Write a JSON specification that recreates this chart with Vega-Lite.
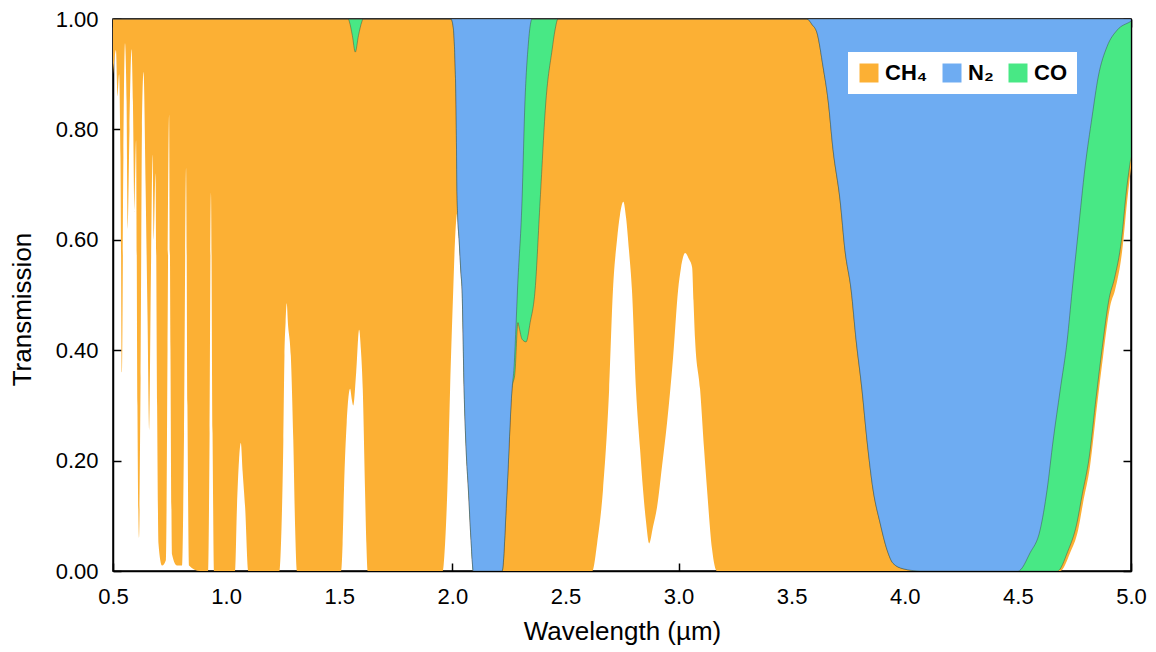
{
 "$schema": "https://vega.github.io/schema/vega-lite/v6.json",
 "width": 1018,
 "height": 552,
 "autosize": {"type": "none"},
 "padding": {"left": 113, "top": 19, "right": 25, "bottom": 81},
 "background": "white",
 "datasets": {
  "ch4": [
   {"w":0.500,"t":0.90},{"w":0.507,"t":0.93},{"w":0.513,"t":0.944},{"w":0.520,"t":0.86},{"w":0.527,"t":0.90},{"w":0.533,"t":0.75},{"w":0.540,"t":0.36},{"w":0.546,"t":0.75},{"w":0.553,"t":0.956},{"w":0.560,"t":0.85},{"w":0.566,"t":0.62},{"w":0.573,"t":0.80},{"w":0.582,"t":0.945},{"w":0.588,"t":0.85},{"w":0.595,"t":0.65},{"w":0.602,"t":0.78},{"w":0.608,"t":0.30},{"w":0.615,"t":0.06},{"w":0.622,"t":0.35},{"w":0.628,"t":0.80},{"w":0.635,"t":0.904},{"w":0.644,"t":0.70},{"w":0.653,"t":0.45},{"w":0.661,"t":0.255},{"w":0.668,"t":0.55},{"w":0.675,"t":0.754},{"w":0.681,"t":0.60},{"w":0.688,"t":0.72},{"w":0.695,"t":0.30},{"w":0.701,"t":0.05},{"w":0.717,"t":0.01},{"w":0.734,"t":0.02},{"w":0.741,"t":0.40},{"w":0.748,"t":0.826},{"w":0.754,"t":0.40},{"w":0.761,"t":0.03},{"w":0.783,"t":0.01},{"w":0.805,"t":0.01},{"w":0.814,"t":0.25},{"w":0.823,"t":0.73},{"w":0.829,"t":0.30},{"w":0.836,"t":0.01},{"w":0.885,"t":0.0},{"w":0.920,"t":0.0},{"w":0.927,"t":0.25},{"w":0.933,"t":0.685},{"w":0.940,"t":0.25},{"w":0.947,"t":0.0},
   {"w":1.039,"t":0.0},{"w":1.048,"t":0.116},{"w":1.057,"t":0.20},{"w":1.065,"t":0.232},{"w":1.073,"t":0.18},{"w":1.084,"t":0.116},{"w":1.098,"t":0.0},
   {"w":1.236,"t":0.0},{"w":1.245,"t":0.08},{"w":1.253,"t":0.237},{"w":1.258,"t":0.39},{"w":1.263,"t":0.45},{"w":1.268,"t":0.485},{"w":1.273,"t":0.45},{"w":1.286,"t":0.39},{"w":1.297,"t":0.237},{"w":1.305,"t":0.08},{"w":1.313,"t":0.0},
   {"w":1.508,"t":0.0},{"w":1.515,"t":0.05},{"w":1.521,"t":0.147},{"w":1.533,"t":0.268},{"w":1.548,"t":0.33},{"w":1.556,"t":0.31},{"w":1.562,"t":0.30},{"w":1.575,"t":0.36},{"w":1.588,"t":0.437},{"w":1.596,"t":0.40},{"w":1.604,"t":0.33},{"w":1.614,"t":0.147},{"w":1.620,"t":0.05},{"w":1.626,"t":0.0},
   {"w":1.958,"t":0.0},{"w":1.968,"t":0.05},{"w":1.978,"t":0.147},{"w":1.990,"t":0.328},{"w":2.004,"t":0.509},{"w":2.012,"t":0.60},{"w":2.018,"t":0.64},{"w":2.023,"t":0.65},{"w":2.030,"t":0.60},{"w":2.038,"t":0.54},{"w":2.043,"t":0.509},{"w":2.052,"t":0.328},{"w":2.061,"t":0.22},{"w":2.071,"t":0.147},{"w":2.082,"t":0.06},{"w":2.093,"t":0.0},
   {"w":2.618,"t":0.0},{"w":2.640,"t":0.05},{"w":2.666,"t":0.147},{"w":2.693,"t":0.328},{"w":2.710,"t":0.509},{"w":2.728,"t":0.60},{"w":2.741,"t":0.645},{"w":2.756,"t":0.669},{"w":2.768,"t":0.64},{"w":2.781,"t":0.58},{"w":2.794,"t":0.509},{"w":2.812,"t":0.328},{"w":2.830,"t":0.22},{"w":2.843,"t":0.147},{"w":2.856,"t":0.09},{"w":2.870,"t":0.05},{"w":2.887,"t":0.08},{"w":2.905,"t":0.116},{"w":2.927,"t":0.19},{"w":2.949,"t":0.268},{"w":2.976,"t":0.388},{"w":2.998,"t":0.509},{"w":3.011,"t":0.55},{"w":3.029,"t":0.576},{"w":3.046,"t":0.565},{"w":3.060,"t":0.55},{"w":3.066,"t":0.49},{"w":3.073,"t":0.42},{"w":3.095,"t":0.33},{"w":3.113,"t":0.22},{"w":3.126,"t":0.147},{"w":3.148,"t":0.04},{"w":3.170,"t":0.0},
   {"w":4.687,"t":0.0},{"w":4.731,"t":0.033},{"w":4.766,"t":0.074},{"w":4.788,"t":0.123},{"w":4.819,"t":0.19},{"w":4.850,"t":0.30},{"w":4.877,"t":0.39},{"w":4.908,"t":0.48},{"w":4.930,"t":0.51},{"w":4.961,"t":0.58},{"w":4.983,"t":0.67},{"w":5.0,"t":0.73}
  ],
  "co": [
   {"w":0.5,"t":1},{"w":1.540,"t":1},{"w":1.545,"t":0.995},{"w":1.558,"t":0.97},{"w":1.571,"t":0.94},{"w":1.585,"t":0.97},{"w":1.600,"t":0.995},{"w":1.605,"t":1},
   {"w":1.994,"t":1},{"w":2.004,"t":0.985},{"w":2.012,"t":0.92},{"w":2.016,"t":0.853},{"w":2.021,"t":0.68},{"w":2.023,"t":0.65},{"w":2.030,"t":0.60},{"w":2.038,"t":0.54},{"w":2.043,"t":0.509},{"w":2.052,"t":0.328},{"w":2.061,"t":0.22},{"w":2.071,"t":0.147},{"w":2.082,"t":0.06},{"w":2.093,"t":0.0},
   {"w":2.220,"t":0.0},{"w":2.242,"t":0.147},{"w":2.264,"t":0.33},{"w":2.277,"t":0.36},{"w":2.290,"t":0.45},{"w":2.296,"t":0.44},{"w":2.308,"t":0.42},{"w":2.326,"t":0.415},{"w":2.344,"t":0.45},{"w":2.366,"t":0.51},{"w":2.388,"t":0.67},{"w":2.414,"t":0.853},{"w":2.441,"t":0.944},{"w":2.454,"t":0.98},{"w":2.467,"t":1},
   {"w":3.568,"t":1},{"w":3.590,"t":0.99},{"w":3.612,"t":0.975},{"w":3.639,"t":0.913},{"w":3.661,"t":0.853},{"w":3.683,"t":0.763},{"w":3.714,"t":0.672},{"w":3.736,"t":0.58},{"w":3.763,"t":0.509},{"w":3.785,"t":0.418},{"w":3.811,"t":0.328},{"w":3.833,"t":0.237},{"w":3.860,"t":0.147},{"w":3.891,"t":0.087},{"w":3.922,"t":0.038},{"w":3.948,"t":0.014},{"w":3.993,"t":0.004},{"w":4.068,"t":0.0},
   {"w":4.675,"t":0.0},{"w":4.720,"t":0.035},{"w":4.760,"t":0.085},{"w":4.785,"t":0.14},{"w":4.815,"t":0.205},{"w":4.846,"t":0.315},{"w":4.873,"t":0.405},{"w":4.904,"t":0.495},{"w":4.927,"t":0.53},{"w":4.958,"t":0.60},{"w":4.980,"t":0.69},{"w":5.0,"t":0.75}
  ],
  "n2": [
   {"w":0.5,"t":1},{"w":1.994,"t":1},{"w":2.004,"t":0.985},{"w":2.012,"t":0.92},{"w":2.016,"t":0.853},{"w":2.021,"t":0.68},{"w":2.023,"t":0.65},{"w":2.030,"t":0.60},{"w":2.038,"t":0.54},{"w":2.043,"t":0.509},{"w":2.052,"t":0.328},{"w":2.061,"t":0.22},{"w":2.071,"t":0.147},{"w":2.082,"t":0.06},{"w":2.093,"t":0.0},
   {"w":2.220,"t":0.0},{"w":2.242,"t":0.147},{"w":2.264,"t":0.33},{"w":2.273,"t":0.37},{"w":2.282,"t":0.45},{"w":2.288,"t":0.509},{"w":2.308,"t":0.67},{"w":2.321,"t":0.85},{"w":2.335,"t":0.95},{"w":2.345,"t":0.99},{"w":2.352,"t":1},
   {"w":3.568,"t":1},{"w":3.590,"t":0.99},{"w":3.612,"t":0.975},{"w":3.639,"t":0.913},{"w":3.661,"t":0.853},{"w":3.683,"t":0.763},{"w":3.714,"t":0.672},{"w":3.736,"t":0.58},{"w":3.763,"t":0.509},{"w":3.785,"t":0.418},{"w":3.811,"t":0.328},{"w":3.833,"t":0.237},{"w":3.860,"t":0.147},{"w":3.891,"t":0.087},{"w":3.922,"t":0.038},{"w":3.948,"t":0.014},{"w":3.993,"t":0.004},{"w":4.068,"t":0.0},
   {"w":4.501,"t":0.0},{"w":4.554,"t":0.033},{"w":4.598,"t":0.074},{"w":4.629,"t":0.147},{"w":4.656,"t":0.237},{"w":4.687,"t":0.328},{"w":4.718,"t":0.418},{"w":4.740,"t":0.509},{"w":4.766,"t":0.612},{"w":4.797,"t":0.732},{"w":4.828,"t":0.823},{"w":4.855,"t":0.895},{"w":4.894,"t":0.95},{"w":4.939,"t":0.98},{"w":4.996,"t":0.995},{"w":5.0,"t":0.996}
  ]
 },
 "layer": [
  {
   "data": {"name": "ch4"},
   "mark": {"type": "area", "clip": true, "interpolate": "monotone"},
   "encoding": {
    "x": {"field": "w", "type": "quantitative", "scale": {"domain": [0.5, 5], "nice": false, "zero": false},
          "axis": {"orient": "bottom", "values": [0.5,1,1.5,2,2.5,3,3.5,4,4.5,5], "format": ".1f", "title": "Wavelength (µm)", "labelPadding": 23, "titlePadding": 11}},
    "y": {"field": "t", "type": "quantitative", "scale": {"domain": [0, 1], "nice": false},
          "axis": {"orient": "left", "values": [0,0.2,0.4,0.6,0.8,1], "format": ".2f", "title": "Transmission", "labelPadding": 23, "titlePadding": 20, "titleY": 290}},
    "y2": {"datum": 1},
    "color": {"datum": "CH₄", "type": "nominal",
              "scale": {"domain": ["CH₄", "N₂", "CO"], "range": ["#FCB034", "#6EACF2", "#48E885"]},
              "legend": {"orient": "none", "legendX": 735, "legendY": 33, "direction": "horizontal", "title": null}}
   }
  },
  {
   "data": {"name": "co"},
   "mark": {"type": "area", "clip": true, "interpolate": "monotone", "stroke": "#3a3a3a", "strokeWidth": 0.6, "strokeOpacity": 0.7},
   "encoding": {
    "x": {"field": "w", "type": "quantitative", "axis": null},
    "y": {"field": "t", "type": "quantitative", "axis": null},
    "y2": {"datum": 1},
    "color": {"datum": "CO", "type": "nominal"}
   }
  },
  {
   "data": {"name": "n2"},
   "mark": {"type": "area", "clip": true, "interpolate": "monotone", "stroke": "#3a3a3a", "strokeWidth": 0.6, "strokeOpacity": 0.7},
   "encoding": {
    "x": {"field": "w", "type": "quantitative", "axis": {"orient": "top", "values": [0.5,1,1.5,2,2.5,3,3.5,4,4.5,5], "labels": false, "title": null}},
    "y": {"field": "t", "type": "quantitative", "axis": {"orient": "right", "values": [0,0.2,0.4,0.6,0.8,1], "labels": false, "title": null}},
    "y2": {"datum": 1},
    "color": {"datum": "N₂", "type": "nominal"}
   }
  }
 ],
 "resolve": {"axis": {"x": "independent", "y": "independent"}},
 "config": {
  "view": {"stroke": "black", "strokeWidth": 1.5},
  "axis": {
   "labelFont": "Liberation Sans", "labelFontSize": 22, "labelColor": "black", "labelFlush": false,
   "titleFont": "Liberation Sans", "titleFontSize": 26, "titleFontWeight": "normal", "titleColor": "black",
   "tickColor": "black", "tickSize": -8, "tickWidth": 1.5, "domainColor": "black", "domainWidth": 1.5,
   "grid": false, "zindex": 1
  },
  "legend": {
   "fillColor": "white", "padding": 10, "symbolType": "square", "symbolSize": 361, "symbolStrokeWidth": 0,
   "symbolOpacity": 1,
   "labelFont": "Liberation Sans", "labelFontSize": 22, "labelFontWeight": "bold", "labelColor": "black",
   "labelOffset": 5, "columnPadding": 13
  }
 }
}
